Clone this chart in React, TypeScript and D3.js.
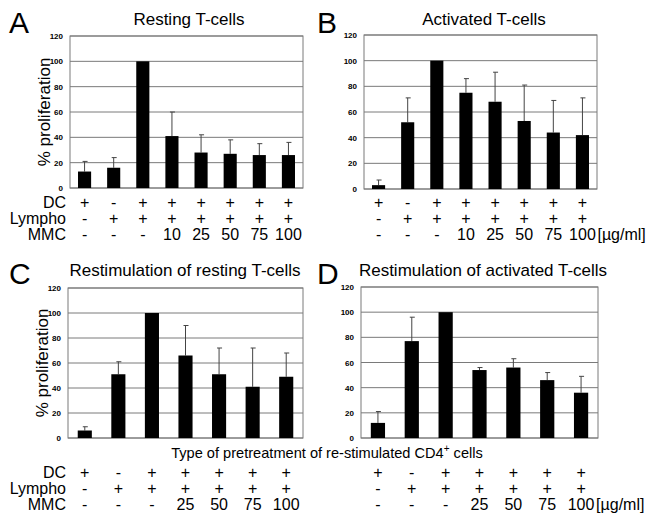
import React from 'react';
import * as d3 from 'd3';

// values (% proliferation), err = upper whisker length
const restingVals = [13, 16, 100, 41, 28, 27, 26, 26];
const restingErr = [8, 8, 0, 19, 14, 11, 9, 10];
const activatedVals = [3, 52, 100, 75, 68, 53, 44, 42];
const activatedErr = [4, 19, 0, 11, 23, 28, 25, 29];
const restimRestVals = [6, 51, 100, 66, 51, 41, 49];
const restimRestErr = [3, 10, 0, 24, 21, 31, 19];
const restimActVals = [12, 77, 100, 54, 56, 46, 36];
const restimActErr = [9, 19, 0, 2, 7, 6, 13];

const yTicks = [0, 20, 40, 60, 80, 100, 120];

const rowNames = ['DC', 'Lympho', 'MMC'];
const topDC = ['+', '-', '+', '+', '+', '+', '+', '+'];
const topLympho = ['-', '+', '+', '+', '+', '+', '+', '+'];
const topMMC = ['-', '-', '-', '10', '25', '50', '75', '100'];
const botDC = ['+', '-', '+', '+', '+', '+', '+'];
const botLympho = ['-', '+', '+', '+', '+', '+', '+'];
const botMMC = ['-', '-', '-', '25', '50', '75', '100'];
const unit = '[µg/ml]';

const FONT = '"Liberation Sans", Arial, Helvetica, sans-serif';

type PanelProps = {
  letter: string;
  letterX: number;
  title: string;
  titleX: number;
  titleY: number;
  left: number;
  right: number;
  top: number;
  bottom: number;
  values: number[];
  errs: number[];
  pad: number;
  yLabel?: boolean;
  rows: string[][];
  rowY: number[];
  rowLabels?: boolean;
  showUnit?: boolean;
};

function Panel(p: PanelProps) {
  const n = p.values.length;
  const x = d3
    .scaleBand<number>()
    .domain(d3.range(n))
    .range([p.left, p.right])
    .paddingInner(p.pad)
    .paddingOuter(p.pad / 2);
  const y = d3.scaleLinear().domain([0, 120]).range([p.bottom, p.top]);
  const bw = x.bandwidth();
  const cx = (i: number) => (x(i) as number) + bw / 2;

  return (
    <g>
      <text x={p.letterX} y={p.titleY + 8} fontSize={30} fontFamily={FONT}>
        {p.letter}
      </text>
      <text x={p.titleX} y={p.titleY} fontSize={17} fontFamily={FONT} textAnchor="middle">
        {p.title}
      </text>

      {/* grid */}
      {yTicks.map((t) => (
        <g key={t}>
          <line x1={p.left} x2={p.right} y1={y(t)} y2={y(t)} stroke="#7a7a7a" strokeWidth={1} />
          <text
            x={p.left - 7}
            y={y(t) + 3}
            fontSize={8}
            fontWeight="bold"
            fontFamily={FONT}
            textAnchor="end"
          >
            {t}
          </text>
        </g>
      ))}
      <rect
        x={p.left}
        y={p.top}
        width={p.right - p.left}
        height={p.bottom - p.top}
        fill="none"
        stroke="#7a7a7a"
        strokeWidth={1}
      />

      {/* error bars */}
      {p.values.map((v, i) =>
        p.errs[i] > 0 ? (
          <g key={'e' + i} stroke="#444" strokeWidth={1}>
            <line x1={cx(i)} x2={cx(i)} y1={y(v)} y2={y(v + p.errs[i])} />
            <line x1={cx(i) - 2} x2={cx(i) + 3} y1={y(v + p.errs[i])} y2={y(v + p.errs[i])} />
          </g>
        ) : null
      )}

      {/* bars */}
      {p.values.map((v, i) => (
        <rect key={'b' + i} x={x(i)} y={y(v)} width={bw} height={y(0) - y(v)} fill="#000" />
      ))}

      {p.yLabel && (
        <text
          transform={`translate(${p.left - 20},${(p.top + p.bottom) / 2}) rotate(-90)`}
          fontSize={17}
          fontFamily={FONT}
          textAnchor="middle"
        >
          % proliferation
        </text>
      )}

      {/* treatment rows */}
      {p.rows.map((row, r) => (
        <g key={'r' + r}>
          {p.rowLabels && (
            <text x={66} y={p.rowY[r]} fontSize={16} fontFamily={FONT} textAnchor="end">
              {rowNames[r]}
            </text>
          )}
          {row.map((s, i) => (
            <text
              key={i}
              x={cx(i)}
              y={p.rowY[r]}
              fontSize={16}
              fontFamily={FONT}
              textAnchor="middle"
            >
              {s}
            </text>
          ))}
        </g>
      ))}
      {p.showUnit && (
        <text x={cx(n - 1) + 15} y={p.rowY[2]} fontSize={16} fontFamily={FONT}>
          {unit}
        </text>
      )}
    </g>
  );
}

export default function App() {
  const topRowsY = [208, 224, 240];
  const botRowsY = [478, 494, 510];
  return (
    <svg
      width={655}
      height={514}
      style={{ position: 'absolute', left: 0, top: 0, background: '#fff' }}
    >
      <Panel
        letter="A"
        letterX={9}
        title="Resting T-cells"
        titleX={189}
        titleY={25}
        left={70}
        right={303}
        top={36}
        bottom={188}
        values={restingVals}
        errs={restingErr}
        pad={0.55}
        yLabel
        rows={[topDC, topLympho, topMMC]}
        rowY={topRowsY}
        rowLabels
      />
      <Panel
        letter="B"
        letterX={317}
        title="Activated T-cells"
        titleX={484}
        titleY={25}
        left={364}
        right={597}
        top={35}
        bottom={189}
        values={activatedVals}
        errs={activatedErr}
        pad={0.55}
        rows={[topDC, topLympho, topMMC]}
        rowY={topRowsY}
        showUnit
      />
      <Panel
        letter="C"
        letterX={9}
        title="Restimulation of resting T-cells"
        titleX={185}
        titleY={276}
        left={68}
        right={303}
        top={288}
        bottom={438}
        values={restimRestVals}
        errs={restimRestErr}
        pad={0.58}
        yLabel
        rows={[botDC, botLympho, botMMC]}
        rowY={botRowsY}
        rowLabels
      />
      <Panel
        letter="D"
        letterX={317}
        title="Restimulation of activated T-cells"
        titleX={483}
        titleY={276}
        left={361}
        right={598}
        top={287}
        bottom={438}
        values={restimActVals}
        errs={restimActErr}
        pad={0.58}
        rows={[botDC, botLympho, botMMC]}
        rowY={botRowsY}
        showUnit
      />
      <text x={327} y={458} fontSize={14.6} fontFamily={FONT} textAnchor="middle">
        Type of pretreatment of re-stimulated CD4
        <tspan fontSize={10} dy={-6}>+</tspan>
        <tspan dy={6}> cells</tspan>
      </text>
    </svg>
  );
}
